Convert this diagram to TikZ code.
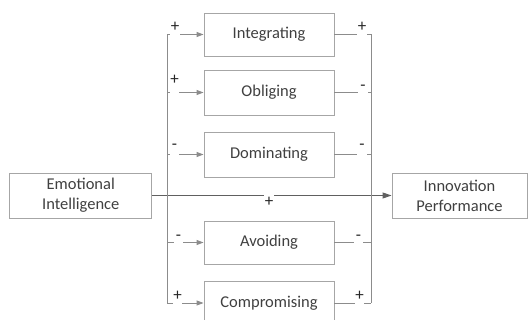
\documentclass[tikz,border=0pt]{standalone}
\usepackage{fontspec}
\setmainfont{Carlito}
\usetikzlibrary{arrows.meta}
\definecolor{txt}{HTML}{404040}
\definecolor{signc}{HTML}{262626}
\definecolor{bordc}{HTML}{A6A6A6}
\definecolor{linec}{HTML}{8C8C8C}
\definecolor{mainc}{HTML}{606060}
\tikzset{
  boxnode/.style={draw=bordc, line width=0.9pt, fill=white, text=txt, inner sep=0pt,
    minimum width=130pt, minimum height=44pt, font=\fontsize{16.5}{20}\selectfont, align=center},
  bignode/.style={boxnode, minimum height=45pt},
  conn/.style={draw=linec, line width=0.9pt},
  arr/.style={conn, -{Triangle[length=7pt,width=5pt]}},
  sign/.style={fill=white, text=signc, inner sep=0pt, minimum width=9.5pt, anchor=base,
    text height=9pt, text depth=9pt, font=\fontsize{17}{17}\selectfont},
  signdown/.style={sign, minimum width=10pt, text height=11pt, text depth=1pt},
}
\begin{document}
\begin{tikzpicture}[x=1pt,y=-1pt]
\useasboundingbox (0,0) rectangle (529,320);
% boxes
\node[bignode, minimum width=142pt] (ei) at (80.75,195.5) {Emotional\\Intelligence};
\node[bignode, minimum width=135pt] (ip) at (459.5,195.5) {Innovation\\Performance};
\node[boxnode, minimum height=43pt] (int) at (269,34.5) {Integrating};
\node[boxnode, minimum height=45pt] (obl) at (269,92.5) {Obliging};
\node[boxnode, minimum height=45pt] (dom) at (269,154.5) {Dominating};
\node[boxnode, minimum height=43pt] (avo) at (269,242.5) {Avoiding};
\node[boxnode, minimum height=44pt] (com) at (269,303) {Compromising};
% bus coordinates
\coordinate (lt) at (167,34.5);
\coordinate (lb) at (167,303);
\coordinate (lm) at (167,195.5);
\coordinate (rt) at (371,34.5);
\coordinate (rb) at (371,303);
% left connectors
\draw[arr] (lt) -- (int.west);
\draw[arr] (lt |- obl.west) -- (obl.west);
\draw[arr] (lt |- dom.west) -- (dom.west);
\draw[arr] (lt |- avo.west) -- (avo.west);
\draw[arr] (lt |- com.west) -- (com.west);
% right connectors
\draw[conn] (int.east) -- (rt);
\draw[conn] (obl.east) -- (rt |- obl.east);
\draw[conn] (dom.east) -- (rt |- dom.east);
\draw[conn] (avo.east) -- (rt |- avo.east);
\draw[conn] (com.east) -- (rt |- com.east);
% main line
\draw[draw=mainc, line width=1.3pt] (ei.east) -- (lm);
\draw[draw=mainc, line width=1pt, -{Triangle[length=9pt,width=6pt]}] (lm) -- (ip.west);
% signs (placed by baseline)
\node[sign] (s1) at (175,32) {+};
\node[sign] (s2) at (174.5,85) {+};
\node[sign] (s3) at (174.5,149.5) {-};
\node[sign] (s4) at (178.5,240.5) {-};
\node[sign] (s5) at (177.5,300) {+};
\node[sign] (r1) at (362,32) {+};
\node[sign] (r2) at (363,91) {-};
\node[sign] (r3) at (362,149.5) {-};
\node[sign] (r4) at (358.5,240.5) {-};
\node[sign] (r5) at (359.5,300) {+};
\node[signdown] (sm) at (269,206) {+};
% buses
\draw[conn] (lt) -- (lb);
\draw[conn] (rt) -- (rb);
\end{tikzpicture}
\end{document}
